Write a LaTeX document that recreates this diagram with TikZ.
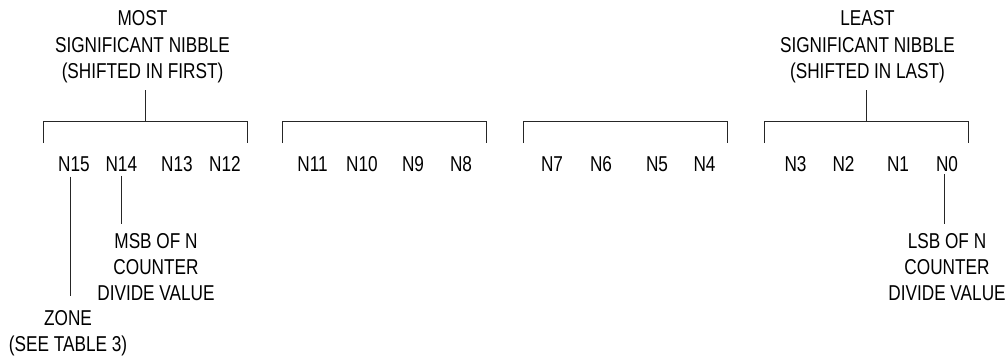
\documentclass[tikz,border=0pt]{standalone}
\usepackage{fontspec}
\setmainfont{Liberation Sans}[FakeStretch=0.8]

\begin{document}
\begin{tikzpicture}
[x=1pt,y=-1pt,
  every node/.style={inner sep=0pt,align=center,font=\fontsize{21.5}{26.3}\selectfont},
  lineDecorate/.style={-,line width=1pt,draw=black!85}]
\useasboundingbox (0,0) rectangle (1008,356);
% bit names, one row
\foreach \bitNum/\xPos in {15/74,14/121.3,13/177,12/225,11/312.5,10/362,9/413,8/461,
  7/552,6/601,5/657,4/704.5,3/795.5,2/843.5,1/898,0/947}
{
  \node[anchor=base] (n\bitNum) at (\xPos,171.2) {N\bitNum};
}
% one bracket per nibble
\foreach \nib/\leftEnd/\rightEnd in {a/43/247, b/282/486, c/523/727, d/764/968}
{
  \coordinate (\nib Top) at ({(\leftEnd+\rightEnd)/2},121.5);
  \draw[lineDecorate] (\leftEnd,143) |- (\rightEnd,121.5) -- (\rightEnd,143);
}
% base = last line
\node[anchor=base] (most) at (142.5,78.3) {MOST\\SIGNIFICANT NIBBLE\\(SHIFTED IN FIRST)};
\node[anchor=base] (least) at (867.5,78.3) {LEAST\\SIGNIFICANT NIBBLE\\(SHIFTED IN LAST)};
\node[anchor=base] (msb) at (156,300.6) {MSB OF N\\COUNTER\\DIVIDE VALUE};
\node[anchor=base] (lsb) at (947,300.6) {LSB OF N\\COUNTER\\DIVIDE VALUE};
\node[anchor=base] (zone) at (68,351.3) {ZONE\\(SEE TABLE 3)};
% leaders
\draw[lineDecorate,shorten >=7pt] (aTop) -- (aTop |- most.south);
\draw[lineDecorate,shorten >=7pt] (dTop) -- (dTop |- least.south);
\draw[lineDecorate,shorten <=4.5pt,shorten >=9pt] (n14.south) -- (n14.south |- msb.north);
\draw[lineDecorate,shorten <=5pt,shorten >=14pt] ([xshift=-4pt]n15.south) -- ([xshift=-4pt]n15.south |- zone.north);
\draw[lineDecorate,shorten <=2.5pt,shorten >=9pt] ([xshift=-3pt]n0.south) -- ([xshift=-3pt]n0.south |- lsb.north);
\end{tikzpicture}
\end{document}
